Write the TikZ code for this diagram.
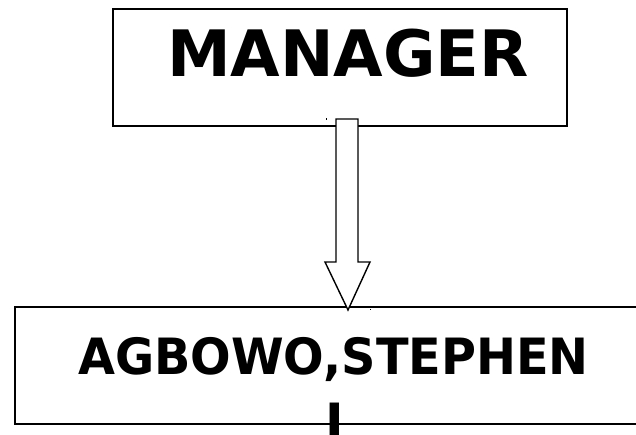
\documentclass[tikz,border=0pt]{standalone}
\usepackage{fontspec}
\setmainfont{DejaVu Sans}
\begin{document}
\begin{tikzpicture}[x=1bp,y=-1bp,
  boxline/.style={draw=black,line width=1.6bp,fill=white},
  bigtext/.style={font=\bfseries\fontsize{64bp}{70bp}\selectfont,inner sep=0pt,anchor=base},
  nametext/.style={font=\bfseries\fontsize{50bp}{56bp}\selectfont,inner sep=0pt,anchor=base},
  arrowshape/.style={draw=black,line width=1.4bp,fill=white,line join=miter}]
\useasboundingbox (0,0) rectangle (636,435);
\clip (0,0) rectangle (636,435);
% boxes
\node[boxline,rectangle,minimum width=454bp,minimum height=117bp,inner sep=0pt,anchor=north west] (mgrbox) at (112,8) {};
\node[boxline,rectangle,minimum width=650bp,minimum height=117bp,inner sep=0pt,anchor=north west] (empbox) at (14,306) {};
% texts
\node[bigtext] (mgr) at (348,77) {MANAGER};
\node[nametext] (emp) at (333.5,374) {\scalebox{0.955}[1]{AGBOWO,STEPHEN}};
\node[nametext] (empi) at (335,439) {I};
% hollow arrow
\coordinate (atip) at (348,310);
\draw[arrowshape] (336,119) -- (358,119) -- (358,262) -- (370,262) -- (atip) -- (325,262) -- (336,262) -- cycle;
% small dots
\fill (325.5,118.5) rectangle (327,120);
\fill (369.5,308.5) rectangle (371,310);
\end{tikzpicture}
\end{document}
